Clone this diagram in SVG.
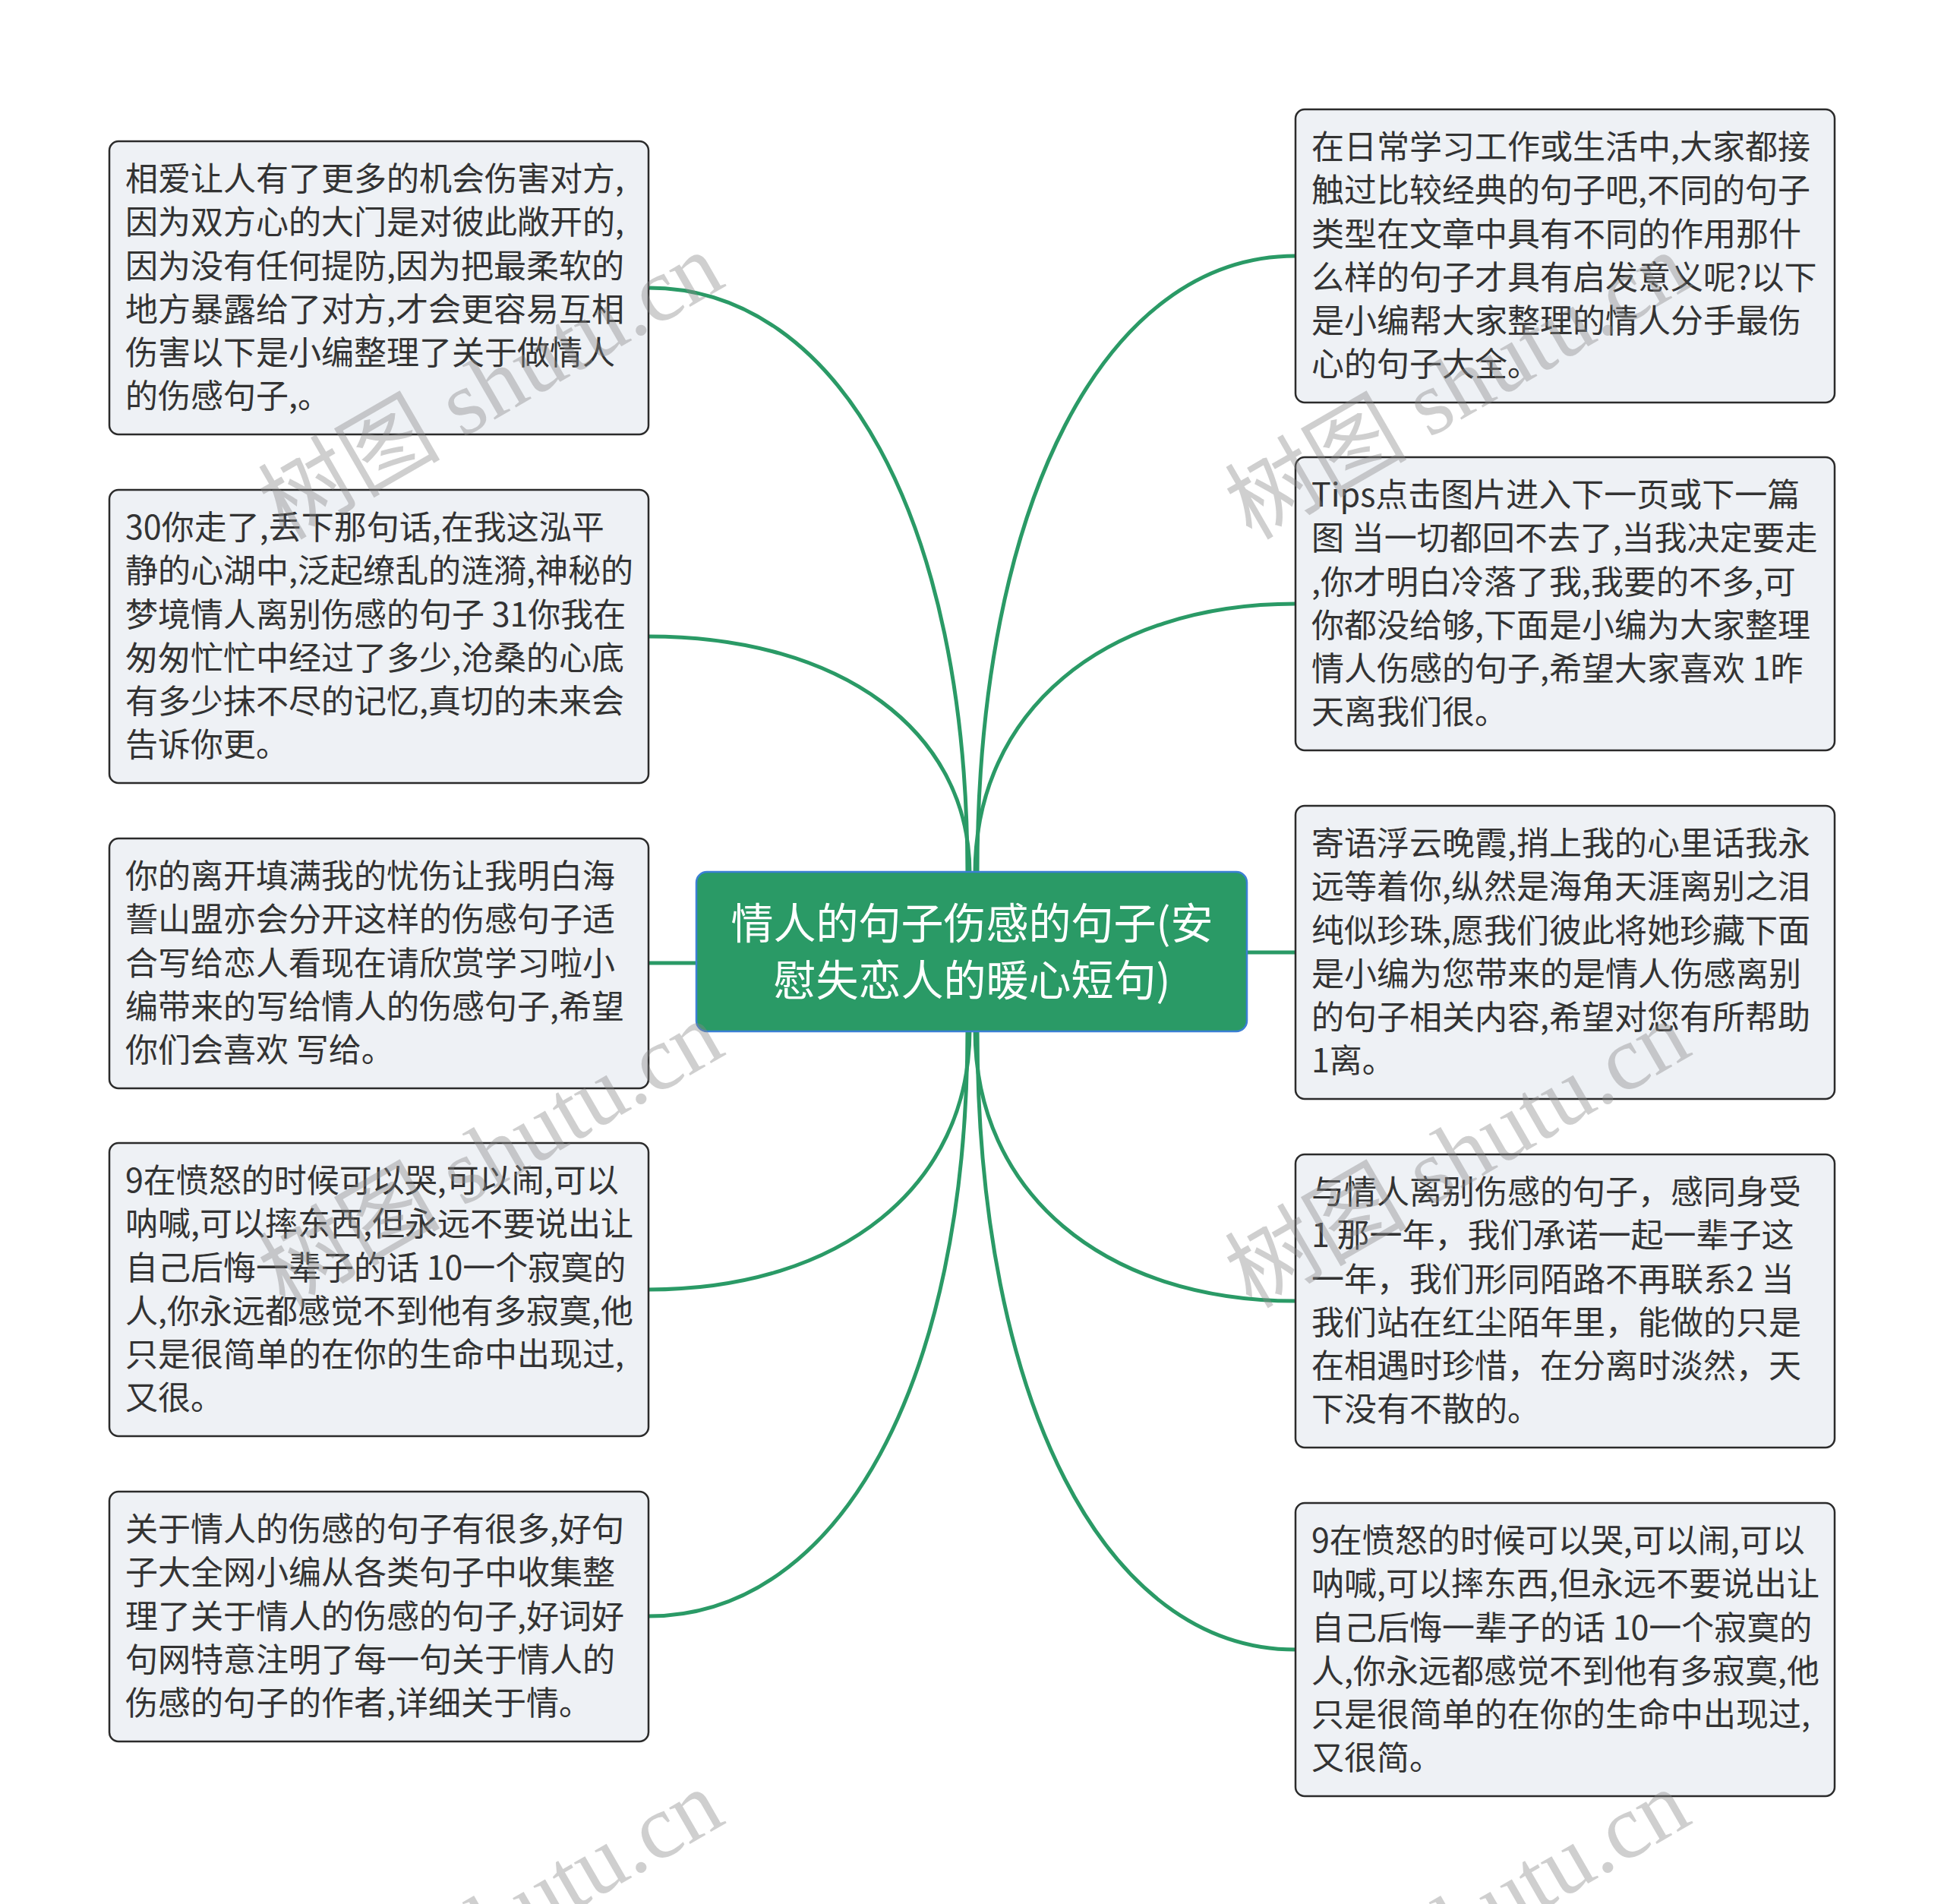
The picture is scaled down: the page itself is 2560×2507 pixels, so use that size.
<svg xmlns="http://www.w3.org/2000/svg" width="2560" height="2507" viewBox="0 0 2560 2507">
<style>
.box{fill:#eef1f5;stroke:#2b2b2b;stroke-width:2.5}
.txt{font-family:"Noto Sans CJK SC","Noto Sans",sans-serif;font-size:43px;fill:#333333}
.ctr{fill:#2a9a66;stroke:#3b7fd4;stroke-width:2.5}
.ctxt{font-family:"Noto Sans CJK SC","Noto Sans",sans-serif;font-size:56px;fill:#ffffff;text-anchor:middle}
.link{fill:none;stroke:#2a9a66;stroke-width:5;stroke-linecap:round}
.wm{font-family:"Liberation Serif","Noto Sans CJK SC",serif;font-size:120px;fill:#888888;fill-opacity:0.4}
</style>
<rect width="2560" height="2507" fill="#ffffff"/>
<g id="connectors">
<path class="link" d="M854 379 C1106 379 1274 687 1274 1150"/>
<path class="link" d="M854 838 C1108 838 1277 963 1277 1150"/>
<path class="link" d="M854 1268 L920 1268"/>
<path class="link" d="M854 1698 C1108 1698 1277 1561 1277 1356"/>
<path class="link" d="M854 2128 C1106 2128 1274 1819 1274 1356"/>
<path class="link" d="M1706 337 C1455 337 1287 662 1287 1150"/>
<path class="link" d="M1706 795 C1453 795 1284 937 1284 1150"/>
<path class="link" d="M1640 1254 L1706 1254"/>
<path class="link" d="M1706 1713 C1453 1713 1284 1570 1284 1356"/>
<path class="link" d="M1706 2172 C1455 2172 1287 1846 1287 1356"/>
</g>
<g id="center">
<rect class="ctr" x="917" y="1148" width="725" height="210" rx="14"/>
<text class="ctxt"><tspan x="1280" y="1236">情人的句子伤感的句子(安</tspan><tspan x="1280" y="1311">慰失恋人的暖心短句)</tspan></text>
</g>
<g id="L1">
<rect class="box" x="144" y="186" width="710" height="386" rx="12"/>
<text class="txt"><tspan x="165" y="251">相爱让人有了更多的机会伤害对方,</tspan><tspan x="165" y="308">因为双方心的大门是对彼此敞开的,</tspan><tspan x="165" y="366">因为没有任何提防,因为把最柔软的</tspan><tspan x="165" y="423">地方暴露给了对方,才会更容易互相</tspan><tspan x="165" y="480">伤害以下是小编整理了关于做情人</tspan><tspan x="165" y="537">的伤感句子,。</tspan></text>
</g>
<g id="L2">
<rect class="box" x="144" y="645" width="710" height="386" rx="12"/>
<text class="txt"><tspan x="165" y="710">30你走了,丢下那句话,在我这泓平</tspan><tspan x="165" y="767">静的心湖中,泛起缭乱的涟漪,神秘的</tspan><tspan x="165" y="825">梦境情人离别伤感的句子 31你我在</tspan><tspan x="165" y="882">匆匆忙忙中经过了多少,沧桑的心底</tspan><tspan x="165" y="939">有多少抹不尽的记忆,真切的未来会</tspan><tspan x="165" y="996">告诉你更。</tspan></text>
</g>
<g id="L3">
<rect class="box" x="144" y="1104" width="710" height="329" rx="12"/>
<text class="txt"><tspan x="165" y="1169">你的离开填满我的忧伤让我明白海</tspan><tspan x="165" y="1226">誓山盟亦会分开这样的伤感句子适</tspan><tspan x="165" y="1284">合写给恋人看现在请欣赏学习啦小</tspan><tspan x="165" y="1341">编带来的写给情人的伤感句子,希望</tspan><tspan x="165" y="1398">你们会喜欢 写给。</tspan></text>
</g>
<g id="L4">
<rect class="box" x="144" y="1505" width="710" height="386" rx="12"/>
<text class="txt"><tspan x="165" y="1570">9在愤怒的时候可以哭,可以闹,可以</tspan><tspan x="165" y="1627">呐喊,可以摔东西,但永远不要说出让</tspan><tspan x="165" y="1685">自己后悔一辈子的话 10一个寂寞的</tspan><tspan x="165" y="1742">人,你永远都感觉不到他有多寂寞,他</tspan><tspan x="165" y="1799">只是很简单的在你的生命中出现过,</tspan><tspan x="165" y="1856">又很。</tspan></text>
</g>
<g id="L5">
<rect class="box" x="144" y="1964" width="710" height="329" rx="12"/>
<text class="txt"><tspan x="165" y="2029">关于情人的伤感的句子有很多,好句</tspan><tspan x="165" y="2086">子大全网小编从各类句子中收集整</tspan><tspan x="165" y="2144">理了关于情人的伤感的句子,好词好</tspan><tspan x="165" y="2201">句网特意注明了每一句关于情人的</tspan><tspan x="165" y="2258">伤感的句子的作者,详细关于情。</tspan></text>
</g>
<g id="R1">
<rect class="box" x="1706" y="144" width="710" height="386" rx="12"/>
<text class="txt"><tspan x="1727" y="209">在日常学习工作或生活中,大家都接</tspan><tspan x="1727" y="266">触过比较经典的句子吧,不同的句子</tspan><tspan x="1727" y="324">类型在文章中具有不同的作用那什</tspan><tspan x="1727" y="381">么样的句子才具有启发意义呢?以下</tspan><tspan x="1727" y="438">是小编帮大家整理的情人分手最伤</tspan><tspan x="1727" y="495">心的句子大全。</tspan></text>
</g>
<g id="R2">
<rect class="box" x="1706" y="602" width="710" height="386" rx="12"/>
<text class="txt"><tspan x="1727" y="667">Tips点击图片进入下一页或下一篇</tspan><tspan x="1727" y="724">图 当一切都回不去了,当我决定要走</tspan><tspan x="1727" y="782">,你才明白冷落了我,我要的不多,可</tspan><tspan x="1727" y="839">你都没给够,下面是小编为大家整理</tspan><tspan x="1727" y="896">情人伤感的句子,希望大家喜欢 1昨</tspan><tspan x="1727" y="953">天离我们很。</tspan></text>
</g>
<g id="R3">
<rect class="box" x="1706" y="1061" width="710" height="386" rx="12"/>
<text class="txt"><tspan x="1727" y="1126">寄语浮云晚霞,捎上我的心里话我永</tspan><tspan x="1727" y="1183">远等着你,纵然是海角天涯离别之泪</tspan><tspan x="1727" y="1241">纯似珍珠,愿我们彼此将她珍藏下面</tspan><tspan x="1727" y="1298">是小编为您带来的是情人伤感离别</tspan><tspan x="1727" y="1355">的句子相关内容,希望对您有所帮助</tspan><tspan x="1727" y="1412">1离。</tspan></text>
</g>
<g id="R4">
<rect class="box" x="1706" y="1520" width="710" height="386" rx="12"/>
<text class="txt"><tspan x="1727" y="1585">与情人离别伤感的句子，感同身受</tspan><tspan x="1727" y="1642">1 那一年，我们承诺一起一辈子这</tspan><tspan x="1727" y="1700">一年，我们形同陌路不再联系2 当</tspan><tspan x="1727" y="1757">我们站在红尘陌年里，能做的只是</tspan><tspan x="1727" y="1814">在相遇时珍惜，在分离时淡然，天</tspan><tspan x="1727" y="1871">下没有不散的。</tspan></text>
</g>
<g id="R5">
<rect class="box" x="1706" y="1979" width="710" height="386" rx="12"/>
<text class="txt"><tspan x="1727" y="2044">9在愤怒的时候可以哭,可以闹,可以</tspan><tspan x="1727" y="2101">呐喊,可以摔东西,但永远不要说出让</tspan><tspan x="1727" y="2159">自己后悔一辈子的话 10一个寂寞的</tspan><tspan x="1727" y="2216">人,你永远都感觉不到他有多寂寞,他</tspan><tspan x="1727" y="2273">只是很简单的在你的生命中出现过,</tspan><tspan x="1727" y="2330">又很简。</tspan></text>
</g>
<g id="watermarks">
<text class="wm" x="375" y="712" transform="rotate(-30 375 712)">树图 shutu.cn</text>
<text class="wm" x="1648" y="712" transform="rotate(-30 1648 712)">树图 shutu.cn</text>
<text class="wm" x="375" y="1724" transform="rotate(-30 375 1724)">树图 shutu.cn</text>
<text class="wm" x="1648" y="1724" transform="rotate(-30 1648 1724)">树图 shutu.cn</text>
<text class="wm" x="375" y="2736" transform="rotate(-30 375 2736)">树图 shutu.cn</text>
<text class="wm" x="1648" y="2736" transform="rotate(-30 1648 2736)">树图 shutu.cn</text>
</g>
</svg>
